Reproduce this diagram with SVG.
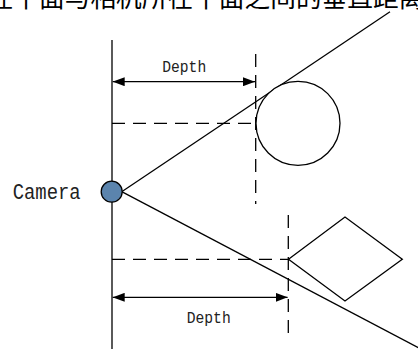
<svg xmlns="http://www.w3.org/2000/svg" width="418" height="349" viewBox="0 0 418 349">
  <style>
    .ln { stroke: #000; stroke-width: 1.3; fill: none; }
    .dash { stroke: #000; stroke-width: 1.3; fill: none; stroke-dasharray: 13 8; }
    .shape { stroke: #000; stroke-width: 1.3; fill: #fff; }
    .lbl { font-family: "Liberation Mono", "DejaVu Sans Mono", monospace; fill: #222; }
    .cjk { font-family: "Noto Sans CJK SC", sans-serif; fill: #000; }
  </style>
  <defs>
    <marker id="arr" viewBox="0 0 12 9" refX="12" refY="4.5" markerWidth="12" markerHeight="9" markerUnits="userSpaceOnUse" orient="auto-start-reverse">
      <path d="M0,0 L12,4.5 L0,9 z" fill="#000"/>
    </marker>
  </defs>
  <rect width="418" height="349" fill="#fff"/>

  <g id="caption">
    <text class="cjk" x="-38" y="7" font-size="25.7">所在平面与相机所在平面之间的垂直距离</text>
  </g>

  <g id="connectors">
    <line class="ln" x1="112" y1="40" x2="112" y2="349"/>
    <line class="ln" x1="121.7" y1="191.7" x2="390" y2="11.7"/>
    <line class="ln" x1="121.7" y1="191.7" x2="420" y2="348.5"/>
    <line class="dash" x1="255.7" y1="54" x2="255.7" y2="204"/>
    <line class="dash" x1="112" y1="123.3" x2="256" y2="123.3"/>
    <line class="dash" x1="288.3" y1="215" x2="288.3" y2="337"/>
    <line class="dash" x1="112" y1="259.3" x2="288.3" y2="259.3"/>
    <line class="ln" x1="112.7" y1="81.7" x2="255" y2="81.7" marker-start="url(#arr)" marker-end="url(#arr)"/>
    <line class="ln" x1="112.7" y1="297.3" x2="287.6" y2="297.3" marker-start="url(#arr)" marker-end="url(#arr)"/>
  </g>

  <g id="circle-object">
    <circle class="shape" cx="298" cy="123.3" r="42"/>
  </g>

  <g id="diamond-object">
    <polygon class="shape" points="288.5,259.3 345,217 402.3,259.3 345,301"/>
  </g>

  <g id="camera">
    <circle cx="111.7" cy="191.7" r="10.5" fill="#5b84ad" stroke="#000" stroke-width="1.3"/>
    <text class="lbl" x="12.7" y="199.3" font-size="22" textLength="68" lengthAdjust="spacingAndGlyphs">Camera</text>
  </g>

  <g id="depth-top">
    <text class="lbl" x="184.2" y="71.5" font-size="17" text-anchor="middle" textLength="44" lengthAdjust="spacingAndGlyphs">Depth</text>
  </g>

  <g id="depth-bottom">
    <text class="lbl" x="208.7" y="323" font-size="17" text-anchor="middle" textLength="44" lengthAdjust="spacingAndGlyphs">Depth</text>
  </g>
</svg>
